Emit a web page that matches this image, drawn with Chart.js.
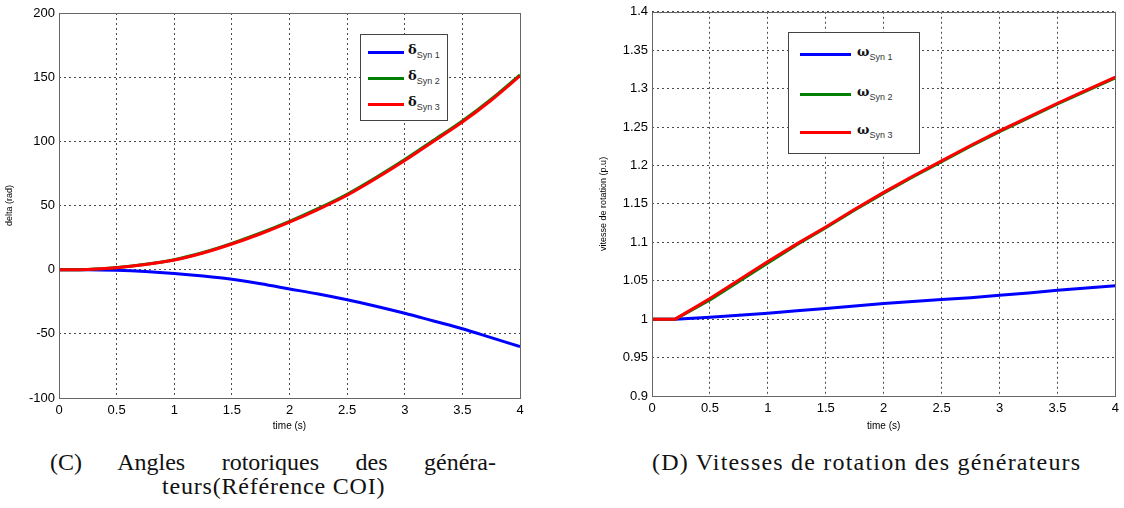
<!DOCTYPE html>
<html>
<head>
<meta charset="utf-8">
<script src="https://cdn.jsdelivr.net/npm/chart.js@4.4.0/dist/chart.umd.min.js"></script>
<style>
  html, body { margin: 0; padding: 0; background: #fff; }
  #page { position: relative; width: 1124px; height: 508px; overflow: hidden; }
  canvas { position: absolute; }
  .legend { position: absolute; background: #fff; border: 1px solid #444; box-sizing: border-box; }
  .leg-item { position: absolute; left: 0; height: 0; }
  .leg-line { position: absolute; height: 3px; margin-top: -1.5px; }
  .leg-text { position: absolute; font-family: "DejaVu Serif", serif; font-weight: bold; font-size: 13px; line-height: 13px; margin-top: -9px; white-space: nowrap; color: #111; }
  .leg-text sub { font-family: "Liberation Sans", Arial, sans-serif; font-weight: normal; font-size: 9px; vertical-align: -4px; color: #333; }
  .caption { position: absolute; font-family: "Liberation Serif", "DejaVu Serif", serif; font-size: 24px; letter-spacing: 1.2px; color: #111; white-space: nowrap; }
  #capC1 { left: 50px; top: 449px; width: 446px; text-align: justify; text-align-last: justify; white-space: normal; letter-spacing: 0; }
</style>
</head>
<body>
<div id="page">
  <canvas id="chart-delta" width="540" height="440" style="left:0;top:0;width:540px;height:440px"></canvas>
  <canvas id="chart-omega" width="544" height="440" style="left:580px;top:0;width:544px;height:440px"></canvas>

  <div class="legend" style="left:360px;top:34px;width:88px;height:87px">
    <div class="leg-item" style="top:17px"><div class="leg-line" style="left:7px;width:36px;background:#0000ff"></div><div class="leg-text" style="left:47px">δ<sub>Syn 1</sub></div></div>
    <div class="leg-item" style="top:43px"><div class="leg-line" style="left:7px;width:36px;background:#008000"></div><div class="leg-text" style="left:47px">δ<sub>Syn 2</sub></div></div>
    <div class="leg-item" style="top:69px"><div class="leg-line" style="left:7px;width:36px;background:#ff0000"></div><div class="leg-text" style="left:47px">δ<sub>Syn 3</sub></div></div>
  </div>
  <div class="legend" style="left:788px;top:32px;width:132px;height:122px">
    <div class="leg-item" style="top:21px"><div class="leg-line" style="left:11px;width:51px;background:#0000ff"></div><div class="leg-text" style="left:68px">ω<sub>Syn 1</sub></div></div>
    <div class="leg-item" style="top:61px"><div class="leg-line" style="left:11px;width:51px;background:#008000"></div><div class="leg-text" style="left:68px">ω<sub>Syn 2</sub></div></div>
    <div class="leg-item" style="top:99px"><div class="leg-line" style="left:11px;width:51px;background:#ff0000"></div><div class="leg-text" style="left:68px">ω<sub>Syn 3</sub></div></div>
  </div>

  <div class="caption" id="capC1">(C) Angles rotoriques des généra-</div>
  <div class="caption" style="left:162px;top:473px;letter-spacing:0.8px">teurs(Référence COI)</div>
  <div class="caption" style="left:652px;top:449px">(D) Vitesses de rotation des générateurs</div>
</div>

<script>
// ---- data ----
const timeDelta = [0, 0.25, 0.5, 0.75, 1, 1.25, 1.5, 1.75, 2, 2.25, 2.5, 2.75, 3, 3.25, 3.5, 3.75, 4];
const deltaSyn1 = [0, 0, -0.5, -1.5, -3, -5, -7.5, -11, -15, -19, -23.5, -28.5, -34, -40, -46, -53, -60];
const deltaSyn2 = [0, 0.2, 1.6, 4.2, 7.8, 13.4, 20.5, 28.6, 37.6, 47.7, 58.8, 71.8, 85.8, 100.8, 115.9, 132.9, 151.8];
const deltaSyn3 = [0, 0.2, 1.5, 4, 7.5, 13, 20, 28, 37, 47, 58, 71, 85, 100, 115, 132, 151];

const timeOmega = [0, 0.2, 0.5, 0.75, 1, 1.25, 1.5, 1.75, 2, 2.25, 2.5, 2.75, 3, 3.25, 3.5, 3.75, 4];
const omegaSyn1 = [1, 1, 1.0026, 1.005, 1.0077, 1.011, 1.014, 1.017, 1.0205, 1.023, 1.0255, 1.028, 1.031, 1.034, 1.0375, 1.0405, 1.0435];
const omegaSyn2 = [1, 1, 1.025, 1.049, 1.073, 1.097, 1.119, 1.142, 1.164, 1.185, 1.205, 1.225, 1.244, 1.262, 1.28, 1.297, 1.314];
const omegaSyn3 = [1, 1, 1.027, 1.051, 1.075, 1.098, 1.12, 1.143, 1.165, 1.186, 1.206, 1.226, 1.245, 1.263, 1.281, 1.298, 1.315];

const timeTicks = [0, 0.5, 1, 1.5, 2, 2.5, 3, 3.5, 4];

const toPoints = (xs, ys) => xs.map((x, i) => ({ x, y: ys[i] }));
const fmt = (v) => String(+(+v).toFixed(2));

// matlab-like frame around the plot area
const framePlugin = {
  id: 'frame',
  afterDraw(chart) {
    const { ctx, chartArea: a } = chart;
    ctx.save();
    ctx.strokeStyle = '#666';
    ctx.lineWidth = 1;
    ctx.strokeRect(Math.round(a.left) + 0.5, Math.round(a.top) + 0.5, Math.round(a.right - a.left), Math.round(a.bottom - a.top));
    ctx.restore();
  }
};

const tickFont = { family: '"Liberation Sans", Arial, sans-serif', size: 13 };
const titleFont = { family: '"Liberation Sans", Arial, sans-serif', size: 10 };
const gridOpts = { color: 'rgba(0,0,0,0.7)', lineWidth: 1, drawTicks: false };

// order: red drawn last (on top), like the matlab plot
function lineSet(data, color, order, smooth) {
  return { data, order, borderColor: color, backgroundColor: color, borderWidth: 3, pointRadius: 0,
           cubicInterpolationMode: smooth ? 'monotone' : 'default', tension: 0, fill: false };
}

function makeChart(id, cfg) {
  return new Chart(document.getElementById(id), {
    type: 'line',
    data: { datasets: cfg.datasets },
    options: {
      responsive: false,
      animation: false,
      layout: { padding: cfg.padding },
      plugins: { legend: { display: false }, tooltip: { enabled: false } },
      scales: {
        x: {
          type: 'linear', min: 0, max: 4,
          afterBuildTicks: (s) => { s.ticks = timeTicks.map(v => ({ value: v })); },
          afterFit: (s) => { s.height = cfg.xHeight; },
          ticks: { font: tickFont, color: '#000', padding: 5, maxRotation: 0, callback: fmt },
          grid: gridOpts,
          border: { display: false, dash: [2, 3] },
          title: { display: true, text: 'time (s)', font: titleFont, color: '#000', padding: { top: 0, bottom: 8 } }
        },
        y: {
          min: cfg.yMin, max: cfg.yMax,
          afterBuildTicks: (s) => { s.ticks = cfg.yTicks.map(v => ({ value: v })); },
          afterFit: (s) => { s.width = cfg.yWidth; },
          ticks: { font: tickFont, color: '#000', padding: 4, callback: fmt },
          grid: gridOpts,
          border: { display: false, dash: [2, 3] },
          title: { display: true, text: cfg.yTitle, font: { ...titleFont, size: 9 }, color: '#000', padding: { top: cfg.yTitlePad, bottom: 0 } }
        }
      }
    },
    plugins: [framePlugin]
  });
}

const deltaTicks = [-100, -50, 0, 50, 100, 150, 200];
makeChart('chart-delta', {
  datasets: [
    lineSet(toPoints(timeDelta, deltaSyn1), '#0000ff', 2, true),
    lineSet(toPoints(timeDelta, deltaSyn2), '#008000', 1, true),
    lineSet(toPoints(timeDelta, deltaSyn3), '#ff0000', 0, true)
  ],
  padding: { top: 13, right: 20, bottom: 0, left: 0 },
  xHeight: 42, yWidth: 59, yTitlePad: 4,
  yMin: -100, yMax: 200, yTicks: deltaTicks,
  yTitle: 'delta (rad)'
});

const omegaTicks = [0.9, 0.95, 1, 1.05, 1.1, 1.15, 1.2, 1.25, 1.3, 1.35, 1.4];
makeChart('chart-omega', {
  datasets: [
    lineSet(toPoints(timeOmega, omegaSyn1), '#0000ff', 2, false),
    lineSet(toPoints(timeOmega, omegaSyn2), '#008000', 1, false),
    lineSet(toPoints(timeOmega, omegaSyn3), '#ff0000', 0, false)
  ],
  padding: { top: 7, right: 6, bottom: 0, left: 0 },
  xHeight: 44, yWidth: 72, yTitlePad: 18,
  yMin: 0.9, yMax: 1.4, yTicks: omegaTicks,
  yTitle: 'vitesse de rotation (p.u)'
});
</script>
</body>
</html>
